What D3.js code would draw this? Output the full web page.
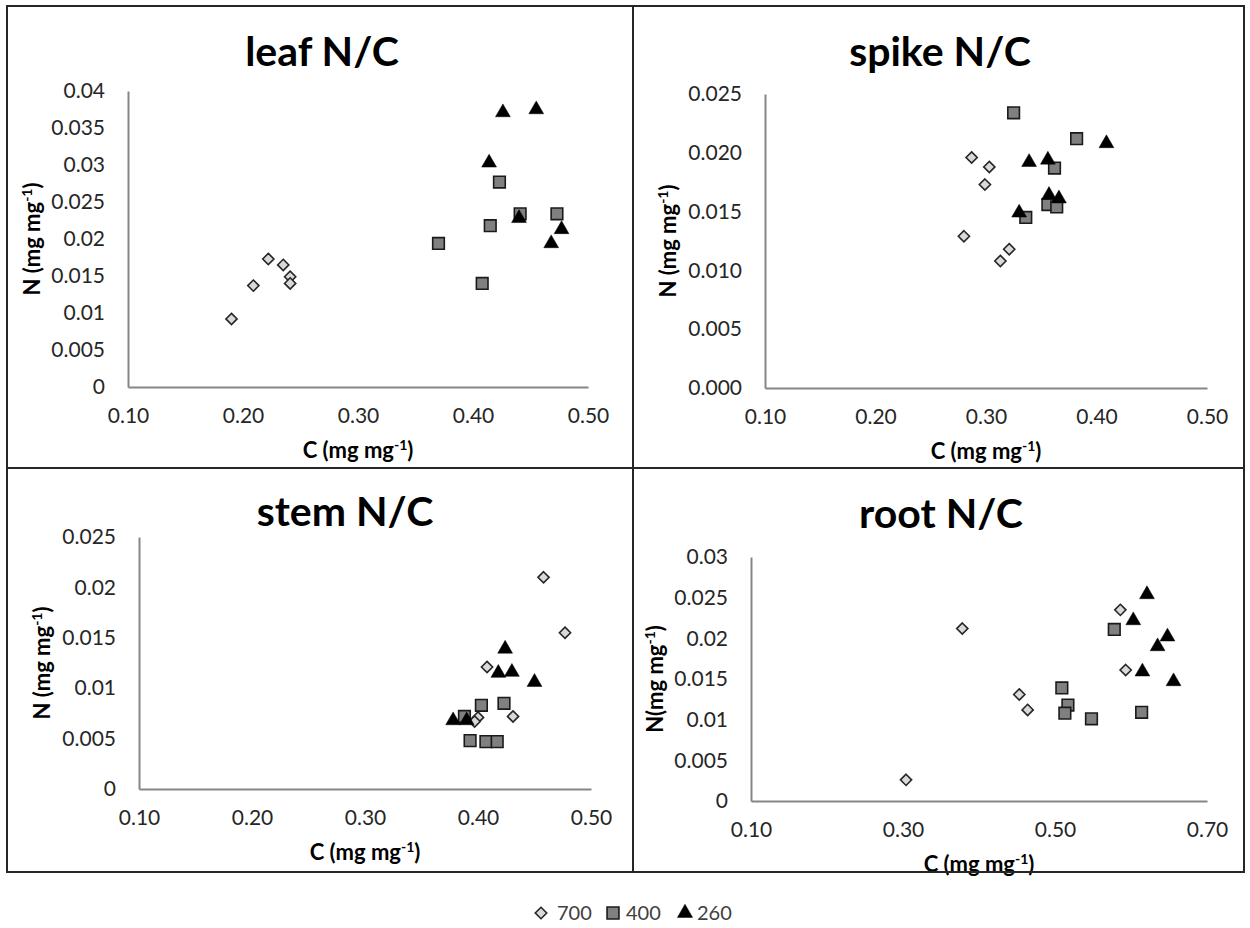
<!DOCTYPE html>
<html>
<head>
<meta charset="utf-8">
<script src="https://cdn.jsdelivr.net/npm/d3@7"></script>
<style>
  body { margin: 0; background: #fff; }
  text { font-family: Lato, "Open Sans", sans-serif; }
</style>
</head>
<body>
<svg id="chart" width="1250" height="928"></svg>
<script>
// Series (CO2 levels) and panel names
var seriesNames = ['700', '400', '260'];
var panelTitles = ['leaf N/C', 'spike N/C', 'stem N/C', 'root N/C'];

// Points as [C, N] in mg mg-1
var leaf700 = [[0.190, 0.0092], [0.209, 0.0137], [0.222, 0.0173], [0.235, 0.0165], [0.241, 0.0149], [0.241, 0.0140]];
var leaf400 = [[0.370, 0.0194], [0.408, 0.0140], [0.415, 0.0218], [0.423, 0.0277], [0.441, 0.0234], [0.473, 0.0234]];
var leaf260 = [[0.426, 0.0371], [0.455, 0.0375], [0.414, 0.0303], [0.440, 0.0228], [0.468, 0.0194], [0.477, 0.0213]];

var spike700 = [[0.287, 0.0196], [0.303, 0.0188], [0.299, 0.0173], [0.280, 0.0129], [0.321, 0.0118], [0.313, 0.0108]];
var spike400 = [[0.325, 0.0234], [0.382, 0.0212], [0.362, 0.0187], [0.356, 0.0156], [0.364, 0.0154], [0.336, 0.0145]];
var spike260 = [[0.409, 0.0208], [0.339, 0.0192], [0.356, 0.0194], [0.357, 0.0164], [0.366, 0.0161], [0.330, 0.0149]];

var stem700 = [[0.458, 0.0210], [0.477, 0.0155], [0.408, 0.0121], [0.431, 0.0072], [0.400, 0.0071], [0.397, 0.0067]];
var stem400 = [[0.388, 0.0072], [0.403, 0.0083], [0.423, 0.0085], [0.393, 0.0048], [0.407, 0.0047], [0.417, 0.0047]];
var stem260 = [[0.424, 0.0139], [0.418, 0.0115], [0.430, 0.0116], [0.450, 0.0106], [0.378, 0.0068], [0.390, 0.0068]];

var root700 = [[0.304, 0.0026], [0.378, 0.0212], [0.453, 0.0131], [0.464, 0.0112], [0.586, 0.0235], [0.593, 0.0161]];
var root400 = [[0.578, 0.0211], [0.509, 0.0139], [0.517, 0.0118], [0.513, 0.0108], [0.548, 0.0101], [0.614, 0.0109]];
var root260 = [[0.621, 0.0254], [0.603, 0.0222], [0.648, 0.0202], [0.635, 0.0190], [0.615, 0.0159], [0.656, 0.0147]];

// Axis ticks
var xTicksShort = [0.1, 0.2, 0.3, 0.4, 0.5];
var xTicksRoot = [0.1, 0.3, 0.5, 0.7];
var yTicksLeaf = [0, 0.005, 0.01, 0.015, 0.02, 0.025, 0.03, 0.035, 0.04];
var yTicks025 = [0, 0.005, 0.01, 0.015, 0.02, 0.025];
var yTicksRoot = [0, 0.005, 0.01, 0.015, 0.02, 0.025, 0.03];

var svg = d3.select('#chart');
svg.append('rect').attr('width', 1250).attr('height', 928).attr('fill', '#fff');

var general = d => String(+d.toFixed(3));
var fixed3 = d3.format('.3f');
var fixed2 = d3.format('.2f');

// Panel layouts (pixel boxes for each plot area)
var panels = [
  { title: panelTitles[0], titleX: 322, titleY: 66, left: 128, right: 588, bottom: 387, top: 91,
    xTicks: xTicksShort, yTicks: yTicksLeaf, yFmt: general, yLabel: 'N (mg mg', yLabelX: 32,
    data: [leaf700, leaf400, leaf260] },
  { title: panelTitles[1], titleX: 940, titleY: 66, left: 765, right: 1207, bottom: 388, top: 94,
    xTicks: xTicksShort, yTicks: yTicks025, yFmt: fixed3, yLabel: 'N (mg mg', yLabelX: 668,
    data: [spike700, spike400, spike260] },
  { title: panelTitles[2], titleX: 345, titleY: 526, left: 139, right: 591, bottom: 789, top: 537,
    xTicks: xTicksShort, yTicks: yTicks025, yFmt: general, yLabel: 'N (mg mg', yLabelX: 42,
    data: [stem700, stem400, stem260] },
  { title: panelTitles[3], titleX: 941, titleY: 528, left: 751, right: 1207, bottom: 801, top: 557,
    xTicks: xTicksRoot, yTicks: yTicksRoot, yFmt: general, yLabel: 'N(mg mg', yLabelX: 655,
    data: [root700, root400, root260] }
];

// Marker drawing for each series
function drawMarker(g, i, size) {
  var s = size || 1;
  if (i === 0) {
    g.append('path').attr('d', d3.symbol(d3.symbolDiamond2, 80 * s)())
      .attr('fill', '#d9d9d9').attr('stroke', '#262626').attr('stroke-width', 1.6);
  } else if (i === 1) {
    g.append('path').attr('d', d3.symbol(d3.symbolSquare, 135 * s)())
      .attr('fill', '#808080').attr('stroke', '#1a1a1a').attr('stroke-width', 1.6);
  } else {
    g.append('path').attr('d', d3.symbol(d3.symbolTriangle, 95 * s)())
      .attr('fill', '#000').attr('stroke', '#000').attr('stroke-width', 0.5);
  }
}

function axisTitle(sel, label) {
  sel.append('tspan').text(label);
  sel.append('tspan').attr('baseline-shift', 'super').attr('font-size', '14px').text('-1');
  sel.append('tspan').text(')');
}

panels.forEach(p => {
  var x = d3.scaleLinear().domain([p.xTicks[0], p.xTicks[p.xTicks.length - 1]]).range([p.left, p.right]);
  var y = d3.scaleLinear().domain([0, p.yTicks[p.yTicks.length - 1]]).range([p.bottom, p.top]);
  var g = svg.append('g');

  g.append('text').attr('x', p.titleX).attr('y', p.titleY).attr('text-anchor', 'middle')
    .attr('font-size', '41px').attr('font-weight', 'bold').attr('fill', '#000').text(p.title);

  // Axes: gray lines, no ticks
  var xa = g.append('g').attr('transform', 'translate(0,' + p.bottom + ')')
    .call(d3.axisBottom(x).tickValues(p.xTicks).tickFormat(fixed2).tickSize(0).tickPadding(21));
  var ya = g.append('g').attr('transform', 'translate(' + p.left + ',0)')
    .call(d3.axisLeft(y).tickValues(p.yTicks).tickFormat(p.yFmt).tickSize(0).tickPadding(23));
  [xa, ya].forEach(a => {
    a.select('.domain').attr('stroke', '#868686').attr('stroke-width', 2);
    a.selectAll('text').attr('font-size', '21px').attr('fill', '#262626').attr('font-family', 'Lato, sans-serif');
  });

  g.append('text').attr('x', (p.left + p.right) / 2).attr('y', p.bottom + 71)
    .attr('text-anchor', 'middle').attr('font-size', '22px').attr('font-weight', 'bold').attr('fill', '#000')
    .call(axisTitle, 'C (mg mg');

  g.append('text').attr('transform', 'translate(' + (p.yLabelX + 8) + ',' + ((p.top + p.bottom) / 2) + ') rotate(-90)')
    .attr('text-anchor', 'middle').attr('font-size', '22px').attr('font-weight', 'bold').attr('fill', '#000')
    .call(axisTitle, p.yLabel);

  p.data.forEach((pts, i) => {
    g.append('g').selectAll('g').data(pts).join('g')
      .attr('transform', d => 'translate(' + x(d[0]) + ',' + y(d[1]) + ')')
      .each(function() { drawMarker(d3.select(this), i); });
  });
});

// Panel frame
var frame = svg.append('g').attr('stroke', '#262626').attr('stroke-width', 2).attr('fill', 'none');
frame.append('rect').attr('x', 7).attr('y', 6).attr('width', 1237).attr('height', 866);
frame.append('line').attr('x1', 633).attr('x2', 633).attr('y1', 6).attr('y2', 872);
frame.append('line').attr('x1', 7).attr('x2', 1244).attr('y1', 468).attr('y2', 468);

// Legend
var legendX = [541, 613, 685];
var legendTextDx = [16, 13, 12];
var legend = svg.append('g');
seriesNames.forEach((name, i) => {
  var item = legend.append('g').attr('transform', 'translate(' + legendX[i] + ',913)');
  drawMarker(item, i, 1.05);
  item.append('text').attr('x', legendTextDx[i]).attr('y', 7).attr('font-size', '20px').attr('fill', '#404040').text(name);
});
</script>
</body>
</html>
